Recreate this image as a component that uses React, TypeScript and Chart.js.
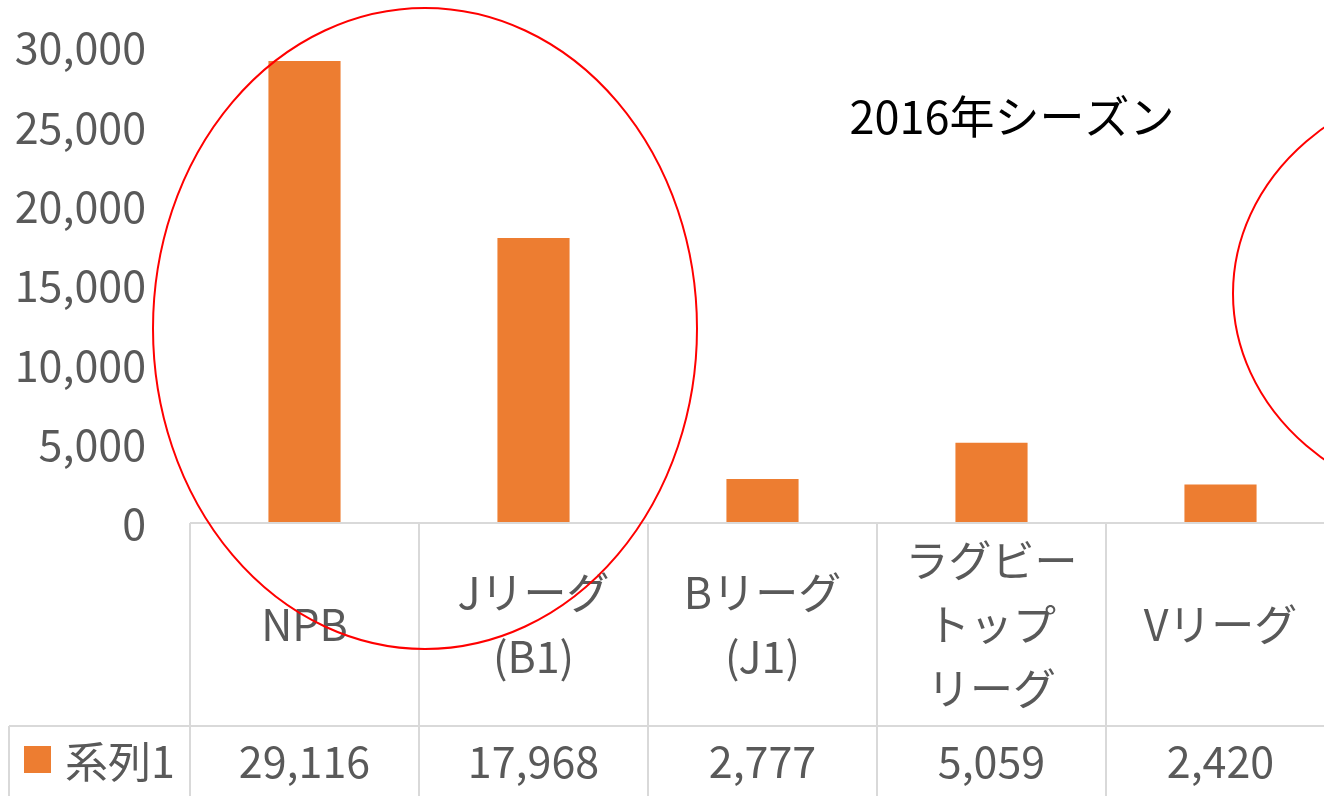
import React, { useEffect, useRef } from "react";
import { Chart, registerables } from "chart.js";

Chart.register(...registerables);

const categories: string[][] = [
  ["NPB"],
  ["Jリーグ", "(B1)"],
  ["Bリーグ", "(J1)"],
  ["ラグビー", "トップ", "リーグ"],
  ["Vリーグ"],
];
const seriesName = "系列1";
const seriesValues = [29116, 17968, 2777, 5059, 2420];
const yTicks = [0, 5000, 10000, 15000, 20000, 25000, 30000];
const titleText = "2016年シーズン";

const FONT = '"Noto Sans CJK JP", "Noto Sans", sans-serif';
const GRAY = "#595959";
const LINE = "#d9d9d9";
const ORANGE = "#ed7d31";
const FS = 43;

const fmt = (v: number) => v.toLocaleString("en-US");

const tablePlugin = {
  id: "dataTable",
  afterDraw(chart: any) {
    const ctx = chart.ctx as CanvasRenderingContext2D;
    const area = chart.chartArea;
    const xs = chart.scales.x;
    const ys = chart.scales.y;
    const W = chart.width;
    const H = chart.height;
    const n = categories.length;
    const colW = (area.right - area.left) / n;
    const rowTop = area.bottom;
    const rowMid = 726;
    ctx.save();
    ctx.strokeStyle = LINE;
    ctx.lineWidth = 2;
    ctx.beginPath();
    ctx.moveTo(area.left, rowTop);
    ctx.lineTo(W, rowTop);
    ctx.moveTo(9, rowMid);
    ctx.lineTo(W, rowMid);
    ctx.moveTo(9, rowMid);
    ctx.lineTo(9, H);
    for (let i = 0; i <= n; i++) {
      const x = area.left + i * colW;
      ctx.moveTo(x, rowTop);
      ctx.lineTo(x, H);
    }
    ctx.stroke();

    ctx.fillStyle = GRAY;
    ctx.font = `${FS}px ${FONT}`;
    ctx.textBaseline = "middle";

    // y tick labels
    ctx.textAlign = "right";
    ys.ticks.forEach((t: any) => {
      ctx.fillText(fmt(t.value), 146, ys.getPixelForValue(t.value) + 1);
    });

    ctx.textAlign = "center";
    const lh = 64;
    const cy = 625;
    categories.forEach((lines, i) => {
      const x = xs.getPixelForValue(i);
      const start = cy - ((lines.length - 1) * lh) / 2;
      lines.forEach((t, j) => ctx.fillText(t, x, start + j * lh));
    });
    seriesValues.forEach((v, i) => {
      const x = xs.getPixelForValue(i);
      ctx.fillText(fmt(v), x, 762);
    });
    ctx.fillStyle = ORANGE;
    ctx.fillRect(24, 746, 27, 27);
    ctx.fillStyle = GRAY;
    ctx.textAlign = "left";
    ctx.fillText(seriesName, 65, 762);

    ctx.fillStyle = "#000000";
    ctx.textAlign = "center";
    ctx.font = `45px ${FONT}`;
    ctx.fillText(titleText, 1012, 117);

    ctx.strokeStyle = "#ff0000";
    ctx.lineWidth = 2;
    ctx.beginPath();
    ctx.ellipse(425, 328.5, 272, 320.5, 0, 0, Math.PI * 2);
    ctx.stroke();
    ctx.beginPath();
    ctx.ellipse(1483, 293.5, 250, 215, 0, 0, Math.PI * 2);
    ctx.stroke();
    ctx.restore();
  },
};

export default function App() {
  const ref = useRef<HTMLCanvasElement | null>(null);
  useEffect(() => {
    if (!ref.current) return;
    const chart = new Chart(ref.current, {
      type: "bar",
      data: {
        labels: categories.map((c) => c.join("")),
        datasets: [
          {
            label: seriesName,
            data: seriesValues,
            backgroundColor: ORANGE,
            borderWidth: 0,
            categoryPercentage: 1,
            barPercentage: 0.315,
          },
        ],
      },
      options: {
        responsive: false,
        animation: false,
        devicePixelRatio: 1,
        layout: { padding: { top: 47, bottom: 273, left: 0, right: 0 } },
        plugins: {
          legend: { display: false },
          tooltip: { enabled: false },
          title: { display: false },
        },
        scales: {
          x: { display: false, offset: true },
          y: {
            min: 0,
            max: 30000,
            afterBuildTicks: (s: any) => {
              s.ticks = yTicks.map((v) => ({ value: v }));
            },
            afterFit: (s: any) => {
              s.width = 190;
            },
            grid: { display: false },
            border: { display: false },
            ticks: { display: false },
          },
        },
      },
      plugins: [tablePlugin],
    });
    return () => chart.destroy();
  }, []);
  return (
    <div
      style={{
        position: "fixed",
        left: 0,
        top: 0,
        width: 1324,
        height: 796,
        overflow: "hidden",
        background: "#fff",
      }}
    >
      <canvas ref={ref} width={1335} height={796} style={{ display: "block" }} />
    </div>
  );
}
